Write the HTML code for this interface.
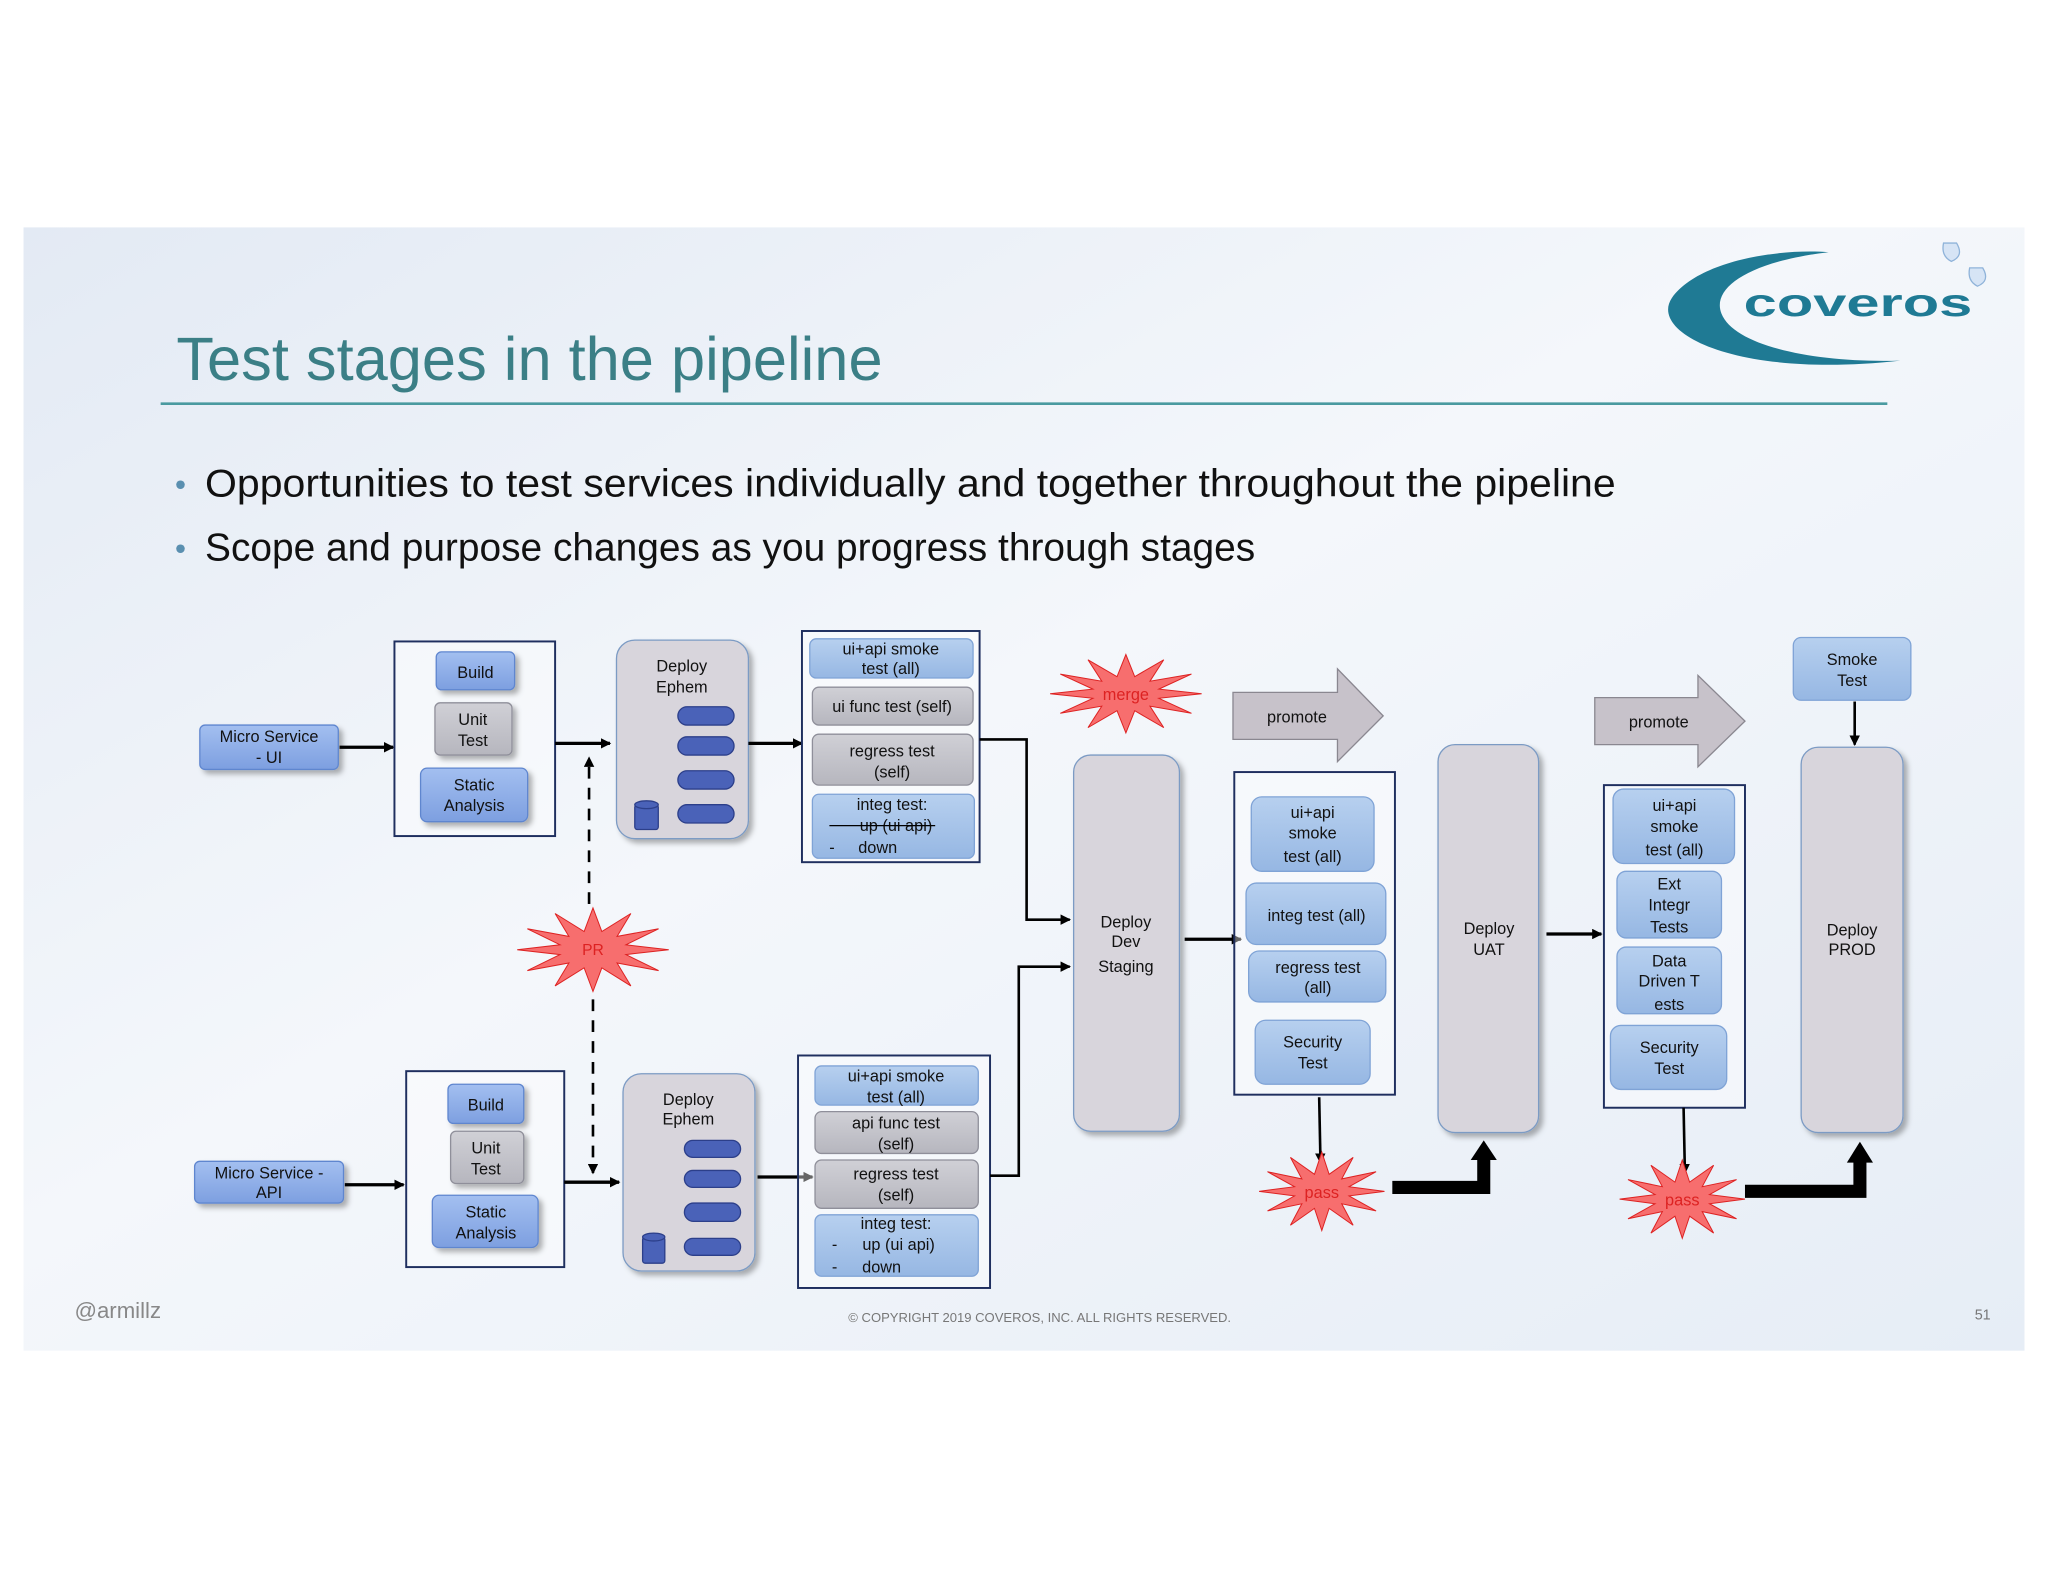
<!DOCTYPE html>
<html><head><meta charset="utf-8"><style>
html,body{margin:0;padding:0;background:#fff;}
svg{display:block;}
text{font-family:"Liberation Sans",sans-serif;}
</style></head><body>
<svg width="2048" height="1582" viewBox="0 0 1568 1211" xmlns="http://www.w3.org/2000/svg">
<defs>
<linearGradient id="bg" x1="0" y1="0" x2="1" y2="1">
<stop offset="0" stop-color="#e3eaf4"/><stop offset="0.45" stop-color="#f4f7fb"/><stop offset="1" stop-color="#e6edf6"/>
</linearGradient>
<linearGradient id="blue" x1="0" y1="0" x2="0" y2="1"><stop offset="0" stop-color="#a3bff0"/><stop offset="1" stop-color="#7d9fe0"/></linearGradient>
<linearGradient id="lblue" x1="0" y1="0" x2="0" y2="1"><stop offset="0" stop-color="#b7d0ef"/><stop offset="1" stop-color="#96b7e3"/></linearGradient>
<linearGradient id="gray" x1="0" y1="0" x2="0" y2="1"><stop offset="0" stop-color="#d0d0d6"/><stop offset="1" stop-color="#b6b6be"/></linearGradient>
<filter id="sh" x="-20%" y="-20%" width="150%" height="150%"><feDropShadow dx="3" dy="3" stdDeviation="2" flood-color="#000" flood-opacity="0.3"/></filter>
<marker id="ah" markerWidth="8" markerHeight="8" refX="7" refY="4" orient="auto" markerUnits="userSpaceOnUse"><path d="M0,0 L8,4 L0,8 z" fill="#000"/></marker>
<polygon id="star" points="1,0 .435,.117 .866,.5 .318,.318 .5,.866 .117,.435 0,1 -.117,.435 -.5,.866 -.318,.318 -.866,.5 -.435,.117 -1,0 -.435,-.117 -.866,-.5 -.318,-.318 -.5,-.866 -.117,-.435 0,-1 .117,-.435 .5,-.866 .318,-.318 .866,-.5 .435,-.117" fill="#f76e6e" stroke="#d22" stroke-width="1" vector-effect="non-scaling-stroke"/>
</defs>
<rect x="18" y="174" width="1532" height="860" fill="url(#bg)"/>
<!-- logo -->
<path d="M1455,276 C1330,290 1262,255 1280,228 C1300,200 1360,190 1400,193 C1340,200 1310,220 1318,240 C1328,265 1390,278 1455,276 z" fill="#1f7a94"/>
<text x="1335" y="242" font-size="30" font-weight="bold" fill="#1f7a94" textLength="175" lengthAdjust="spacingAndGlyphs">coveros</text>
<path d="M1488,186 L1498,186 Q1504,196 1494,200 Q1486,196 1488,186 z" fill="#d6e4f5" stroke="#8fb3d9"/>
<path d="M1508,205 L1518,205 Q1524,215 1514,219 Q1506,215 1508,205 z" fill="#d6e4f5" stroke="#8fb3d9"/>
<!-- title -->
<text x="135" y="291" font-size="47" fill="#3b7f86">Test stages in the pipeline</text>
<line x1="123" y1="309" x2="1445" y2="309" stroke="#4a9aa0" stroke-width="2"/>
<text x="134" y="379" font-size="24" fill="#5a8fb0">•</text>
<text x="157" y="380" font-size="30" fill="#111" textLength="1080" lengthAdjust="spacingAndGlyphs">Opportunities to test services individually and together throughout the pipeline</text>
<text x="134" y="428" font-size="24" fill="#5a8fb0">•</text>
<text x="157" y="429" font-size="30" fill="#111" textLength="804" lengthAdjust="spacingAndGlyphs">Scope and purpose changes as you progress through stages</text>
<text x="57" y="1009" font-size="17" fill="#888">@armillz</text>
<text x="796" y="1012" font-size="10" fill="#777" text-anchor="middle">© COPYRIGHT 2019 COVEROS, INC. ALL RIGHTS RESERVED.</text>
<text x="1518" y="1010" font-size="11" fill="#777" text-anchor="middle">51</text>

<g font-size="12.5" fill="#111" text-anchor="middle">
<!-- top row -->
<rect x="153" y="555" width="106" height="34" rx="4" fill="url(#blue)" stroke="#5f86cf" filter="url(#sh)"/>
<text x="206" y="568">Micro Service</text><text x="206" y="584">- UI</text>
<line x1="260" y1="572" x2="301" y2="572" stroke="#000" stroke-width="2.5" marker-end="url(#ah)"/>
<rect x="302" y="491" width="123" height="149" fill="#fff" fill-opacity="0.4" stroke="#1f2f5f" stroke-width="1.5"/>
<rect x="334" y="499" width="60" height="29" rx="4" fill="url(#blue)" stroke="#5f86cf" filter="url(#sh)"/><text x="364" y="519">Build</text>
<rect x="333" y="538" width="59" height="40" rx="4" fill="url(#gray)" stroke="#8f8f9a" filter="url(#sh)"/><text x="362" y="555">Unit</text><text x="362" y="571">Test</text>
<rect x="322" y="588" width="82" height="41" rx="5" fill="url(#blue)" stroke="#5f86cf" filter="url(#sh)"/><text x="363" y="605">Static</text><text x="363" y="621">Analysis</text>
<line x1="425" y1="569" x2="467" y2="569" stroke="#000" stroke-width="2.5" marker-end="url(#ah)"/>
<rect x="472" y="490" width="101" height="152" rx="14" fill="#d8d5dc" stroke="#7c9bc4" filter="url(#sh)"/>
<text x="522" y="514">Deploy</text><text x="522" y="530">Ephem</text>
<g fill="#4a62b8" stroke="#2c3f8a"><rect x="519" y="541" width="43" height="14" rx="7"/><rect x="519" y="564" width="43" height="14" rx="7"/><rect x="519" y="590" width="43" height="14" rx="7"/><rect x="519" y="616" width="43" height="14" rx="7"/>
<rect x="486" y="616" width="18" height="19" rx="2"/><ellipse cx="495" cy="616" rx="9" ry="3"/></g>
<line x1="573" y1="569" x2="614" y2="569" stroke="#000" stroke-width="2.5" marker-end="url(#ah)"/>
<rect x="614" y="483" width="136" height="177" fill="#fff" fill-opacity="0.4" stroke="#1f2f5f" stroke-width="1.5"/>
<rect x="620" y="489" width="125" height="30" rx="5" fill="url(#lblue)" stroke="#7fa3d6"/><text x="682" y="501">ui+api smoke</text><text x="682" y="516">test (all)</text>
<rect x="622" y="526" width="123" height="29" rx="5" fill="url(#gray)" stroke="#8f8f9a"/><text x="683" y="545">ui func test (self)</text>
<rect x="622" y="562" width="123" height="39" rx="5" fill="url(#gray)" stroke="#8f8f9a"/><text x="683" y="579">regress test</text><text x="683" y="595">(self)</text>
<rect x="622" y="608" width="124" height="49" rx="5" fill="url(#lblue)" stroke="#7fa3d6"/><text x="683" y="620">integ test:</text><text x="686" y="636">up (ui api)</text><line x1="635" y1="632" x2="716" y2="632" stroke="#000"/><text x="637" y="653">-</text><text x="672" y="653">down</text>
<polyline points="750,566 786,566 786,704 819,704" fill="none" stroke="#000" stroke-width="2" marker-end="url(#ah)"/>
<!-- PR -->
<line x1="451" y1="692" x2="451" y2="580" stroke="#000" stroke-width="2" stroke-dasharray="9,7" marker-end="url(#ah)"/>
<line x1="454" y1="765" x2="454" y2="898" stroke="#000" stroke-width="2" stroke-dasharray="9,7" marker-end="url(#ah)"/>
<use href="#star" transform="translate(454,727) scale(58,32)"/>
<text x="454" y="731" fill="#d22" font-size="12">PR</text>

<!-- bottom row -->
<rect x="149" y="889" width="114" height="32" rx="4" fill="url(#blue)" stroke="#5f86cf" filter="url(#sh)"/>
<text x="206" y="902">Micro Service -</text><text x="206" y="917">API</text>
<line x1="264" y1="907" x2="309" y2="907" stroke="#000" stroke-width="2.5" marker-end="url(#ah)"/>
<rect x="311" y="820" width="121" height="150" fill="#fff" fill-opacity="0.4" stroke="#1f2f5f" stroke-width="1.5"/>
<rect x="343" y="830" width="58" height="30" rx="4" fill="url(#blue)" stroke="#5f86cf" filter="url(#sh)"/><text x="372" y="850">Build</text>
<rect x="345" y="866" width="56" height="40" rx="4" fill="url(#gray)" stroke="#8f8f9a" filter="url(#sh)"/><text x="372" y="883">Unit</text><text x="372" y="899">Test</text>
<rect x="331" y="915" width="81" height="40" rx="5" fill="url(#blue)" stroke="#5f86cf" filter="url(#sh)"/><text x="372" y="932">Static</text><text x="372" y="948">Analysis</text>
<line x1="432" y1="905" x2="474" y2="905" stroke="#000" stroke-width="2.5" marker-end="url(#ah)"/>
<rect x="477" y="822" width="101" height="151" rx="14" fill="#d8d5dc" stroke="#7c9bc4" filter="url(#sh)"/>
<text x="527" y="846">Deploy</text><text x="527" y="861">Ephem</text>
<g fill="#4a62b8" stroke="#2c3f8a"><rect x="524" y="873" width="43" height="13" rx="6.5"/><rect x="524" y="896" width="43" height="13" rx="6.5"/><rect x="524" y="921" width="43" height="14" rx="7"/><rect x="524" y="948" width="43" height="13" rx="6.5"/>
<rect x="492" y="947" width="17" height="20" rx="2"/><ellipse cx="500.5" cy="947" rx="8.5" ry="3"/></g>
<line x1="580" y1="901" x2="622" y2="901" stroke="#000" stroke-width="2.5" marker-end="url(#ah)"/>
<rect x="611" y="808" width="147" height="178" fill="#fff" fill-opacity="0.4" stroke="#1f2f5f" stroke-width="1.5"/>
<rect x="624" y="816" width="125" height="30" rx="5" fill="url(#lblue)" stroke="#7fa3d6"/><text x="686" y="828">ui+api smoke</text><text x="686" y="844">test (all)</text>
<rect x="624" y="851" width="125" height="32" rx="5" fill="url(#gray)" stroke="#8f8f9a"/><text x="686" y="864">api func test</text><text x="686" y="880">(self)</text>
<rect x="624" y="888" width="125" height="37" rx="5" fill="url(#gray)" stroke="#8f8f9a"/><text x="686" y="903">regress test</text><text x="686" y="919">(self)</text>
<rect x="624" y="930" width="125" height="47" rx="5" fill="url(#lblue)" stroke="#7fa3d6"/><text x="686" y="941">integ test:</text><text x="639" y="957">-</text><text x="688" y="957">up (ui api)</text><text x="639" y="974">-</text><text x="675" y="974">down</text>
<polyline points="758,900 780,900 780,740 819,740" fill="none" stroke="#000" stroke-width="2" marker-end="url(#ah)"/>

<!-- middle -->
<use href="#star" transform="translate(862,531) scale(58,30)"/>
<text x="862" y="536" fill="#d22">merge</text>
<rect x="822" y="578" width="81" height="288" rx="13" fill="#d8d5dc" stroke="#7c9bc4" filter="url(#sh)"/>
<text x="862" y="710">Deploy</text><text x="862" y="725">Dev</text><text x="862" y="744">Staging</text>
<line x1="907" y1="719" x2="950" y2="719" stroke="#000" stroke-width="2.5" marker-end="url(#ah)"/>
<polygon points="944,530 1024,530 1024,512 1059,548 1024,583 1024,566 944,566" fill="#c7c2ca" stroke="#8a8790"/>
<text x="993" y="553" text-anchor="middle">promote</text>
<rect x="945" y="591" width="123" height="247" fill="#fff" fill-opacity="0.4" stroke="#1f2f5f" stroke-width="1.5"/>
<rect x="958" y="610" width="94" height="57" rx="8" fill="url(#lblue)" stroke="#7fa3d6"/><text x="1005" y="626">ui+api</text><text x="1005" y="642">smoke</text><text x="1005" y="660">test (all)</text>
<rect x="954" y="676" width="107" height="47" rx="8" fill="url(#lblue)" stroke="#7fa3d6"/><text x="1008" y="705">integ test (all)</text>
<rect x="956" y="728" width="105" height="39" rx="8" fill="url(#lblue)" stroke="#7fa3d6"/><text x="1009" y="745">regress test</text><text x="1009" y="760">(all)</text>
<rect x="961" y="781" width="88" height="49" rx="8" fill="url(#lblue)" stroke="#7fa3d6"/><text x="1005" y="802">Security</text><text x="1005" y="818">Test</text>
<line x1="1010" y1="840" x2="1011" y2="890" stroke="#000" stroke-width="2" marker-end="url(#ah)"/>
<use href="#star" transform="translate(1012,912) scale(48,30)"/>
<text x="1012" y="917" fill="#d22">pass</text>
<polyline points="1066,909 1136,909 1136,886" fill="none" stroke="#000" stroke-width="10"/>
<polygon points="1126,888 1146,888 1136,873" fill="#000"/>
<rect x="1101" y="570" width="77" height="297" rx="13" fill="#d8d5dc" stroke="#7c9bc4" filter="url(#sh)"/>
<text x="1140" y="715">Deploy</text><text x="1140" y="731">UAT</text>
<line x1="1184" y1="715" x2="1226" y2="715" stroke="#000" stroke-width="2.5" marker-end="url(#ah)"/>
<polygon points="1221,534 1300,534 1300,517 1336,552 1300,587 1300,570 1221,570" fill="#c7c2ca" stroke="#8a8790"/>
<text x="1270" y="557">promote</text>
<rect x="1228" y="601" width="108" height="247" fill="#fff" fill-opacity="0.4" stroke="#1f2f5f" stroke-width="1.5"/>
<rect x="1235" y="604" width="93" height="57" rx="8" fill="url(#lblue)" stroke="#7fa3d6"/><text x="1282" y="621">ui+api</text><text x="1282" y="637">smoke</text><text x="1282" y="655">test (all)</text>
<rect x="1238" y="667" width="80" height="51" rx="7" fill="url(#lblue)" stroke="#7fa3d6"/><text x="1278" y="681">Ext</text><text x="1278" y="697">Integr</text><text x="1278" y="714">Tests</text>
<rect x="1238" y="725" width="80" height="51" rx="7" fill="url(#lblue)" stroke="#7fa3d6"/><text x="1278" y="740">Data</text><text x="1278" y="755">Driven T</text><text x="1278" y="773">ests</text>
<rect x="1233" y="785" width="89" height="49" rx="8" fill="url(#lblue)" stroke="#7fa3d6"/><text x="1278" y="806">Security</text><text x="1278" y="822">Test</text>
<line x1="1289" y1="848" x2="1290" y2="898" stroke="#000" stroke-width="2" marker-end="url(#ah)"/>
<use href="#star" transform="translate(1288,918) scale(48,30)"/>
<text x="1288" y="923" fill="#d22">pass</text>
<polyline points="1336,912 1424,912 1424,888" fill="none" stroke="#000" stroke-width="10"/>
<polygon points="1414,890 1434,890 1424,874" fill="#000"/>
<rect x="1373" y="488" width="90" height="48" rx="6" fill="url(#lblue)" stroke="#7fa3d6"/><text x="1418" y="509">Smoke</text><text x="1418" y="525">Test</text>
<line x1="1420" y1="537" x2="1420" y2="570" stroke="#000" stroke-width="2" marker-end="url(#ah)"/>
<rect x="1379" y="572" width="78" height="295" rx="13" fill="#d8d5dc" stroke="#7c9bc4" filter="url(#sh)"/>
<text x="1418" y="716">Deploy</text><text x="1418" y="731">PROD</text>
</g>
</svg>
</body></html>
